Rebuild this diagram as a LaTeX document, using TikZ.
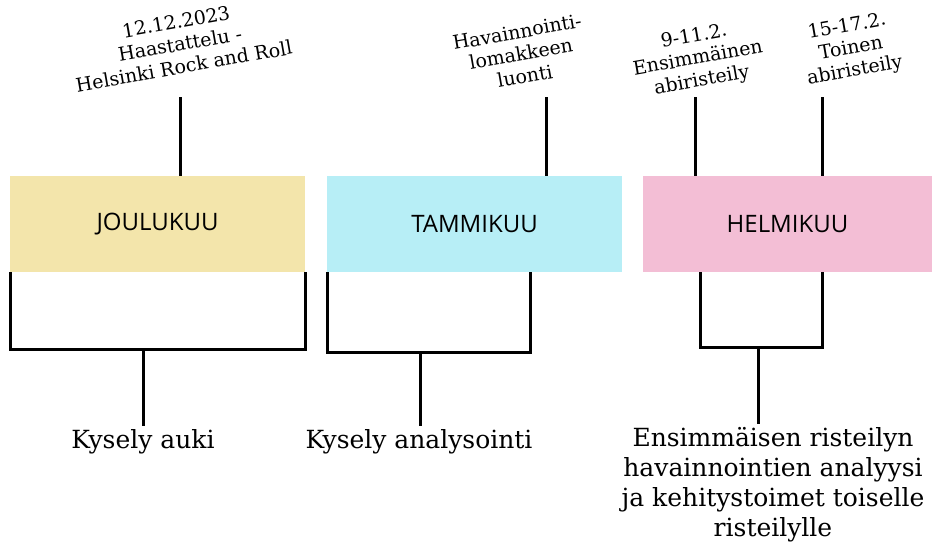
\documentclass[tikz,border=0pt]{standalone}
\usepackage{fontspec}
\setmainfont{DejaVu Serif}
\newfontfamily\boxfont{Open Sans}
\usetikzlibrary{positioning}

\definecolor{joulucol}{RGB}{243,229,171}
\definecolor{tammicol}{RGB}{183,238,246}
\definecolor{helmicol}{RGB}{243,190,213}

\begin{document}
\begin{tikzpicture}[x=1pt, y=-1pt, line width=3pt]
                \tikzset{month/.style={rectangle, minimum height=96pt, inner sep=0pt, outer sep=0pt, font=\boxfont\fontsize{24}{28}\selectfont},
                         event/.style={align=center, rotate=10, inner sep=0pt, font=\fontsize{19}{22.5}\selectfont},
                         result/.style={align=center, inner sep=2pt, font=\fontsize{25}{30}\selectfont}}
                \useasboundingbox (0,0) rectangle (932,551);

                % MONTHS
                \node[month, fill=joulucol, minimum width=295pt] (joulu) at (157.5,224) {JOULUKUU};
                \node[month, fill=tammicol, minimum width=295pt] (tammi) at (474.5,224) {TAMMIKUU};
                \node[month, fill=helmicol, minimum width=289pt] (helmi) at (787.5,224) {HELMIKUU};

                % EVENTS
                \node[event] (haast) at (180,44) {12.12.2023\\Haastattelu -\\Helsinki Rock and Roll};
                \node[event] (lomake) at (521,54) {Havainnointi-\\lomakkeen\\luonti};
                \node[event] (eka) at (698,59) {9-11.2.\\Ensimmäinen\\abiristeily};
                \node[event] (toka) at (851,49) {15-17.2.\\Toinen\\abiristeily};

                \coordinate (haastend) at (180,97);
                \coordinate (lomakeend) at (546,97);
                \coordinate (ekaend) at (695,97);
                \coordinate (tokaend) at (822,97);

                \draw (haastend) -- (haastend |- joulu.north);
                \draw (lomakeend) -- (lomakeend |- tammi.north);
                \draw (ekaend) -- (ekaend |- helmi.north);
                \draw (tokaend) -- (tokaend |- helmi.north);

                % RESULTS
                \node[result, anchor=north] (auki) at (143,426) {Kysely auki};
                \node[result, anchor=north] (analyysi) at (419,426) {Kysely analysointi};
                \node[result, anchor=north] (kehitys) at (773,424) {Ensimmäisen risteilyn\\havainnointien analyysi\\ja kehitystoimet toiselle\\risteilylle};

                % BRACKETS
                \draw (joulu.south west) -- (10,349) -- (305,349) -- (joulu.south east);
                \draw (143,349) -- (auki.north -| 143,0);
                \draw (327,272) -- (327,352) -- (530,352) -- (530,272);
                \draw (420,352) -- (analyysi.north -| 420,0);
                \draw (700,272) -- (700,347) -- (822,347) -- (822,272);
                \draw (758,347) -- (kehitys.north -| 758,0);

            \end{tikzpicture}
\end{document}
